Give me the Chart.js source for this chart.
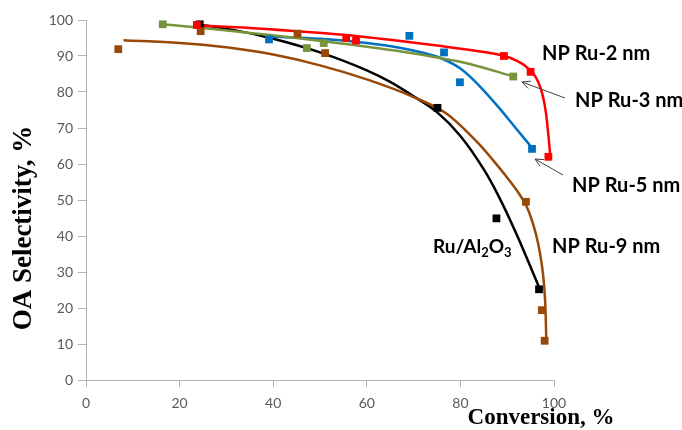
<!DOCTYPE html>
<html>
<head>
<meta charset="utf-8">
<script src="https://cdn.jsdelivr.net/npm/chart.js@4.4.1/dist/chart.umd.min.js"></script>
<style>
  body { margin: 0; background: #fff; }
  #wrap { width: 682px; height: 430px; position: relative; }
</style>
</head>
<body>
<div id="wrap"><canvas id="c"></canvas></div>
<script>
// measured points (conversion %, selectivity %)
let ru2X = [23.7, 55.6, 57.7, 89.3, 95.0, 98.8]
let ru2Y = [98.6, 95.0, 94.3, 90.0, 85.6, 62.0]
let ru3X = [16.4, 47.2, 50.8, 91.3]
let ru3Y = [98.8, 92.2, 93.6, 84.3]
let ru5X = [39.1, 69.1, 76.5, 79.9, 95.3]
let ru5Y = [94.6, 95.6, 91.0, 82.7, 64.2]
let ru9X = [6.9, 24.5, 45.2, 51.1, 94.0, 97.4, 98.0]
let ru9Y = [91.9, 96.9, 96.2, 90.8, 49.5, 19.4, 10.9]
let alX = [24.3, 75.1, 87.7, 96.8]
let alY = [98.8, 75.6, 44.9, 25.2]

// trend lines
let ru2FitX = [24, 35, 45, 55, 65, 75, 85, 90, 92, 94, 95.5, 96.7, 97.6, 98.3, 98.8, 99.2]
let ru2FitY = [98.5, 97.8, 96.9, 95.9, 94.5, 92.9, 91.1, 89.8, 88.7, 87.1, 85.2, 82.6, 79, 74, 68, 62.5]
let ru3FitX = [16.4, 25, 35, 45, 55, 67, 75, 82, 91.3]
let ru3FitY = [98.8, 97.8, 96.4, 95, 93.4, 91.3, 89.6, 87.8, 84.3]
let ru5FitX = [39, 50, 60, 67, 72, 76, 80, 84, 88, 91.5, 95.3]
let ru5FitY = [95.4, 94.8, 93.6, 92.3, 90.9, 89.3, 86.5, 81.8, 76, 70.5, 64.5]
let ru9FitX = [8, 20, 30, 40, 50, 60, 70, 77, 84, 87, 90, 92.5, 94.3, 95.6, 96.6, 97.4, 97.9, 98.2, 98.35]
let ru9FitY = [94.4, 93.6, 92.4, 90.4, 87.4, 83.5, 78.6, 74, 65.5, 61, 56.2, 51.8, 47.8, 43, 38, 32, 26, 19, 11]
let alFitX = [24.3, 30, 40, 50, 60, 65, 70, 75, 80, 85, 88, 92, 97]
let alFitY = [98.7, 97.6, 94.8, 91, 86, 82.8, 78.8, 74.4, 67.8, 58.5, 51.5, 40.5, 25.2]

let xTicks = [0, 20, 40, 60, 80, 100]
let yTicks = [0, 10, 20, 30, 40, 50, 60, 70, 80, 90, 100]

let red = "#ff0000"
let blue = "#0070c0"
let green = "#77933c"
let brown = "#984807"

function pts(xs, ys) {
  return xs.map((x, i) => ({ x: x, y: ys[i] }))
}

function marks(xs, ys, col) {
  return { data: pts(xs, ys), showLine: false, pointStyle: "rect", pointRadius: 5.5,
    backgroundColor: col, borderColor: col, borderWidth: 0, order: 0 }
}
function fit(xs, ys, col) {
  return { data: pts(xs, ys), showLine: true, pointRadius: 0, borderColor: col,
    borderWidth: 2.5, cubicInterpolationMode: "monotone", fill: false, order: 1 }
}

function arrow(ctx, x1, y1, x2, y2) {
  let a = Math.atan2(y2 - y1, x2 - x1)
  let l = 9
  ctx.beginPath()
  ctx.moveTo(x1, y1)
  ctx.lineTo(x2, y2)
  ctx.moveTo(x2 - l * Math.cos(a - 0.45), y2 - l * Math.sin(a - 0.45))
  ctx.lineTo(x2, y2)
  ctx.lineTo(x2 - l * Math.cos(a + 0.45), y2 - l * Math.sin(a + 0.45))
  ctx.stroke()
}

let extras = {
  id: "extras",
  afterDraw(chart) {
    let ctx = chart.ctx
    ctx.save()
    ctx.fillStyle = "#000"
    ctx.textBaseline = "alphabetic"
    ctx.textAlign = "left"
    ctx.font = "bold 20px Lato"
    ctx.fillText("NP Ru-2 nm", 542, 60)
    ctx.fillText("NP Ru-3 nm", 575, 107)
    ctx.fillText("NP Ru-5 nm", 572, 192)
    ctx.fillText("NP Ru-9 nm", 552, 253)
    // Ru/Al2O3 with subscripts
    let x = 433
    ctx.font = "bold 19px Lato"
    ctx.fillText("Ru/Al", x, 253); x += ctx.measureText("Ru/Al").width
    ctx.font = "bold 13px Lato"
    ctx.fillText("2", x, 257); x += ctx.measureText("2").width
    ctx.font = "bold 19px Lato"
    ctx.fillText("O", x, 253); x += ctx.measureText("O").width
    ctx.font = "bold 13px Lato"
    ctx.fillText("3", x, 257)

    ctx.strokeStyle = "#404040"
    ctx.lineWidth = 1
    arrow(ctx, 565, 98, 522, 82)
    arrow(ctx, 563, 175, 535, 159)

    // axis titles
    ctx.font = "bold 23px 'Liberation Serif'"
    ctx.textAlign = "center"
    ctx.fillText("Conversion, %", 541, 424)
    ctx.translate(31, 228)
    ctx.rotate(-Math.PI / 2)
    ctx.font = "bold 27px 'Liberation Serif'"
    ctx.fillText("OA Selectivity, %", 0, 0)
    ctx.restore()
  }
}

let tickFont = { family: "Lato", size: 14 }

new Chart(document.getElementById("c"), {
  type: "scatter",
  data: {
    datasets: [
      marks(ru2X, ru2Y, red), marks(ru3X, ru3Y, green), marks(ru5X, ru5Y, blue),
      marks(ru9X, ru9Y, brown), marks(alX, alY, "#000"),
      fit(ru2FitX, ru2FitY, red), fit(ru3FitX, ru3FitY, green), fit(ru5FitX, ru5FitY, blue),
      fit(ru9FitX, ru9FitY, brown), fit(alFitX, alFitY, "#000")
    ]
  },
  options: {
    responsive: true,
    maintainAspectRatio: false,
    animation: false,
    layout: { padding: { top: 20, right: 128, left: 0, bottom: 0 } },
    plugins: { legend: { display: false }, tooltip: { enabled: false } },
    scales: {
      x: {
        type: "linear", min: 0, max: 100,
        afterBuildTicks: s => { s.ticks = xTicks.map(v => ({ value: v })) },
        afterFit: s => { s.height = 50 },
        grid: { drawOnChartArea: false, tickLength: 7, color: "#b3b3b3" },
        border: { color: "#b3b3b3", width: 1 },
        ticks: { color: "#595959", font: tickFont, padding: 8 }
      },
      y: {
        type: "linear", min: 0, max: 100,
        afterBuildTicks: s => { s.ticks = yTicks.map(v => ({ value: v })) },
        afterFit: s => { s.width = 86 },
        grid: { drawOnChartArea: false, tickLength: 8, color: "#b3b3b3" },
        border: { color: "#b3b3b3", width: 1 },
        ticks: { color: "#595959", font: tickFont, padding: 5 }
      }
    }
  },
  plugins: [extras]
})
</script>
</body>
</html>
